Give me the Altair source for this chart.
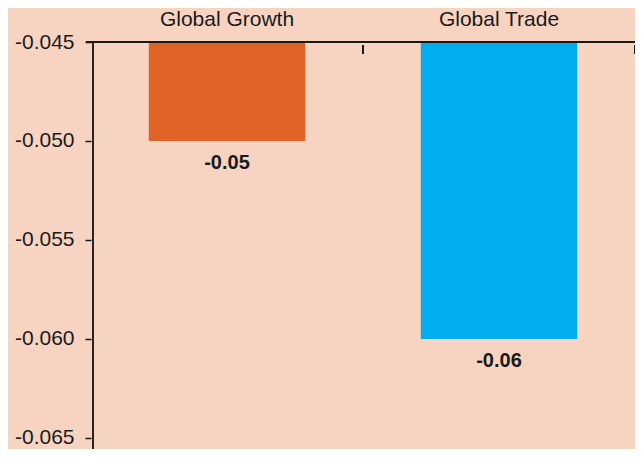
import altair as alt
import pandas as pd

categories = ["Global Growth", "Global Trade"]
values = [-0.05, -0.06]
colors = ["#E06226", "#00AEEF"]
y_ticks = [-0.045, -0.050, -0.055, -0.060, -0.065]
y_top = -0.045
y_bottom = -0.065556

FONT = "Liberation Sans"
INK = "#1a1a1a"

df = pd.DataFrame({"category": categories, "value": values})

xscale = alt.Scale(domain=categories, paddingInner=0.425, paddingOuter=0.2125)
yscale = alt.Scale(domain=[y_bottom, y_top], nice=False, zero=False)

x_enc = alt.X(
    "category:N",
    sort=categories,
    scale=xscale,
    axis=alt.Axis(
        orient="top", title=None, labelAngle=0, labelFontSize=21, labelFont=FONT,
        labelColor=INK, labelPadding=13, ticks=False, domain=False, grid=False,
    ),
)
y_enc = alt.Y(
    "value:Q",
    scale=yscale,
    axis=alt.Axis(
        values=y_ticks, format=".3f",
        labelExpr="replace(datum.label, '\u2212', '-')",
        title=None, domain=False, grid=False, tickSize=6, tickColor=INK,
        tickWidth=1.5, labelFontSize=21, labelFont=FONT, labelColor=INK,
        labelPadding=11,
    ),
)

base = alt.Chart(df)

bars = base.mark_bar().encode(
    x=x_enc,
    y=y_enc,
    y2=alt.datum(y_top),
    color=alt.Color("category:N", scale=alt.Scale(domain=categories, range=colors), legend=None),
)

labels = base.transform_calculate(
    label="replace(format(datum.value, '.2f'), '\u2212', '-')"
).mark_text(
    font=FONT, fontSize=20, fontWeight="bold", color=INK, baseline="middle", dy=22
).encode(
    x=alt.X("category:N", sort=categories),
    y=alt.Y("value:Q"),
    text="label:N",
)

band_ticks = base.mark_rule(color=INK, strokeWidth=2, xOffset=136).encode(
    x=alt.X("category:N", sort=categories),
    y=alt.value(3),
    y2=alt.value(12),
)

top_line = base.mark_rule(color=INK, strokeWidth=2).encode(
    x=alt.value(-5), x2=alt.value(560), y=alt.value(0)
)
y_line = base.mark_rule(color=INK, strokeWidth=1.5).encode(
    x=alt.value(2), y=alt.value(1), y2=alt.value(420)
)

chart = alt.layer(bars, labels, band_ticks, top_line, y_line).properties(
    width=544,
    height=407,
    autosize=alt.AutoSizeParams(type="none"),
    padding={"left": 83, "top": 34, "right": 0, "bottom": 0},
    background="#F7D4C2",
).configure_view(stroke=None)

chart.save("out.html", embed_options={"renderer": "svg", "actions": False})
